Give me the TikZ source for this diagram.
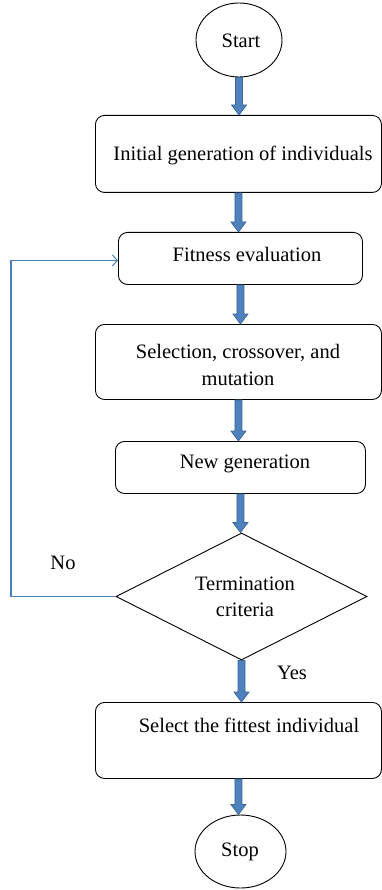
\documentclass[tikz,border=0pt]{standalone}
\usepackage{fontspec}
\setmainfont{Liberation Serif}
\usetikzlibrary{shapes.geometric,arrows.meta,calc}
\definecolor{arrfill}{HTML}{4F81BD}
\definecolor{arrline}{HTML}{3A6798}
\definecolor{loopblue}{HTML}{4A7EBB}
\tikzset{
  procbox/.style={draw=black,line width=0.9pt,rounded corners=9pt,inner sep=0pt,anchor=north west},
  term/.style={draw=black,line width=0.9pt,ellipse,inner sep=0pt},
  decis/.style={draw=black,line width=0.9pt,diamond,inner sep=0pt},
  lbl/.style={font=\fontsize{20.5}{26.5}\selectfont,align=center,inner sep=0pt},
  barrow/.style={fill=arrfill,draw=arrline,line width=0.7pt},
  loopline/.style={draw=loopblue,line width=1.5pt,-{Straight Barb[length=5pt,width=11pt,line width=1pt]}},
}
\newcommand\blockarr[2]{%
  \filldraw[barrow] let \p1=(#1.south), \p2=(#2.north) in
    (\x1-3.5pt,\y1) -- (\x1+3.5pt,\y1) -- (\x1+3.5pt,\y2+10pt) -- (\x1+7.5pt,\y2+10pt)
    -- (\x1,\y2) -- (\x1-7.5pt,\y2+10pt) -- (\x1-3.5pt,\y2+10pt) -- cycle;}
\begin{document}
\begin{tikzpicture}[x=1pt,y=-1pt]
\useasboundingbox (0,0) rectangle (382,890);
% shapes
\node[term,minimum width=86pt,minimum height=74pt] (start) at (239,40) {};
\node[procbox,minimum width=286pt,minimum height=77pt] (b1) at (95,115) {};
\node[procbox,minimum width=244pt,minimum height=52pt] (fit) at (118,232) {};
\node[procbox,minimum width=286pt,minimum height=75pt] (sel) at (95,324) {};
\node[procbox,minimum width=250pt,minimum height=52pt] (ng) at (115,441) {};
\node[decis,minimum width=251pt,minimum height=127pt] (dia) at (241.5,596.5) {};
\node[procbox,minimum width=286pt,minimum height=76pt] (fin) at (95,702) {};
\node[term,minimum width=91pt,minimum height=73pt] (stop) at (240.5,851.5) {};
% texts
\node[lbl] (tstart) at (241,41) {Start};
\node[lbl] (tb1) at (243,155) {Initial generation of individuals};
\node[lbl] (tfit) at (247,254) {Fitness evaluation};
\node[lbl] (tsel) at (238,365) {Selection, crossover, and\\mutation};
\node[lbl] (tng) at (245,464) {New generation};
\node[lbl] (tdia) at (245,597) {Termination\\criteria};
\node[lbl] (tfin) at (249,725) {Select the fittest individual};
\node[lbl] (tstop) at (240,852) {Stop};
\node[lbl] (yes) at (292,673) {Yes};
\node[lbl] (no) at (63,563) {No};
% block arrows
\blockarr{start}{b1}
\blockarr{b1}{fit}
\blockarr{fit}{sel}
\blockarr{sel}{ng}
\blockarr{ng}{dia}
\blockarr{dia}{fin}
\blockarr{fin}{stop}
% loop back
\coordinate (lp) at (11,596.5);
\draw[loopline] (dia.west) -- (lp) |- ($(fit.west)+(0,2)$);
\end{tikzpicture}
\end{document}
